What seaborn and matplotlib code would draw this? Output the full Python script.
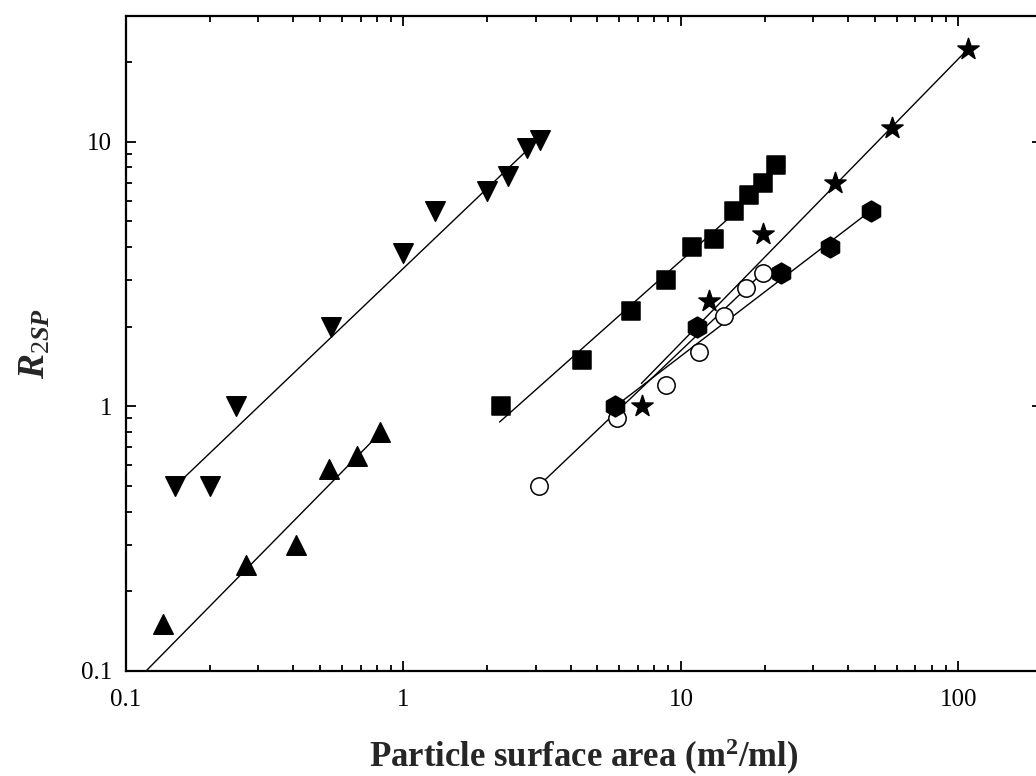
import matplotlib
matplotlib.use("Agg")
import matplotlib.pyplot as plt
import matplotlib.ticker as mticker
import numpy as np
import pandas as pd
import seaborn as sns

# Measured series: particle surface area (m^2/ml) vs R2SP
down_x = [0.15, 0.20, 0.25, 0.55, 1.0, 1.3, 2.0, 2.38, 2.78, 3.10]
down_y = [0.50, 0.50, 1.0, 2.0, 3.8, 5.5, 6.5, 7.4, 9.5, 10.2]

up_x = [0.136, 0.27, 0.41, 0.54, 0.68, 0.82]
up_y = [0.15, 0.25, 0.30, 0.58, 0.65, 0.80]

sq_x = [2.25, 4.4, 6.6, 8.8, 11.0, 13.2, 15.5, 17.6, 19.8, 22.0]
sq_y = [1.0, 1.5, 2.3, 3.0, 4.0, 4.3, 5.5, 6.3, 7.0, 8.2]

star_x = [7.25, 12.6, 19.8, 36.0, 57.5, 108.0]
star_y = [1.0, 2.5, 4.5, 7.0, 11.3, 22.4]

circ_x = [3.07, 5.9, 8.8, 11.6, 14.3, 17.1, 19.7]
circ_y = [0.5, 0.9, 1.2, 1.6, 2.2, 2.8, 3.2]

hex_x = [5.8, 11.4, 23.0, 34.5, 48.4]
hex_y = [1.0, 2.0, 3.2, 4.0, 5.5]

# Power-law fit lines (end points)
down_fit_x, down_fit_y = [0.158, 3.12], [0.524, 10.4]
up_fit_x, up_fit_y = [0.105, 0.80], [0.088, 0.767]
sq_fit_x, sq_fit_y = [2.22, 15.5], [0.872, 5.35]
star_fit_x, star_fit_y = [7.2, 108.0], [1.22, 22.4]
circ_fit_x, circ_fit_y = [3.07, 19.7], [0.5, 3.2]
hex_fit_x, hex_fit_y = [5.8, 48.4], [1.0, 5.5]

x_ticks = [0.1, 1, 10, 100]
y_ticks = [0.1, 1, 10]

sns.set_theme(style="ticks")
plt.rcParams["font.family"] = ["Liberation Serif", "DejaVu Serif"]
plt.rcParams["mathtext.fontset"] = "custom"
plt.rcParams["mathtext.rm"] = "Liberation Serif"
plt.rcParams["mathtext.it"] = "Liberation Serif:italic:bold"
plt.rcParams["mathtext.bf"] = "Liberation Serif:bold"

fig = plt.figure(figsize=(10.36, 7.76), dpi=100)
ax = fig.add_axes([126 / 1036, 105.3 / 776, 916 / 1036, 655 / 776])
ax.set_xscale("log")
ax.set_yscale("log")

fits = [
    (down_fit_x, down_fit_y),
    (up_fit_x, up_fit_y),
    (sq_fit_x, sq_fit_y),
    (star_fit_x, star_fit_y),
    (circ_fit_x, circ_fit_y),
    (hex_fit_x, hex_fit_y),
]
for fx, fy in fits:
    sns.lineplot(x=fx, y=fy, ax=ax, color="black", linewidth=1.0,
                 estimator=None, sort=False, zorder=2)

series = [
    (down_x, down_y, "v", 14, "black"),
    (up_x, up_y, "^", 14, "black"),
    (sq_x, sq_y, "s", 12.5, "black"),
    (star_x, star_y, "*", 16, "black"),
    (circ_x, circ_y, "o", 12.5, "white"),
    (hex_x, hex_y, "h", 15, "black"),
]
for sx, sy, mk, ms, fc in series:
    df = pd.DataFrame({"x": sx, "y": sy})
    sns.scatterplot(data=df, x="x", y="y", ax=ax, marker=mk, s=ms ** 2,
                    color=fc, edgecolor="black", linewidth=1.1, zorder=3)

ax.set_xlim(0.1, 200)
ax.set_ylim(0.1, 30)

fmt = mticker.FuncFormatter(lambda v, p: f"{v:g}")
ax.xaxis.set_major_locator(mticker.FixedLocator(x_ticks))
ax.yaxis.set_major_locator(mticker.FixedLocator(y_ticks))
ax.xaxis.set_major_formatter(fmt)
ax.yaxis.set_major_formatter(fmt)
ax.xaxis.set_minor_locator(mticker.LogLocator(base=10, subs=np.arange(2, 10)))
ax.yaxis.set_minor_locator(mticker.LogLocator(base=10, subs=np.arange(2, 10)))
ax.xaxis.set_minor_formatter(mticker.NullFormatter())
ax.yaxis.set_minor_formatter(mticker.NullFormatter())

ax.tick_params(which="both", direction="in", top=True, right=True,
               width=1.3, colors="black")
ax.tick_params(which="major", length=7.5, labelsize=18)
ax.tick_params(axis="x", which="major", pad=13)
ax.tick_params(axis="y", which="major", pad=10)
ax.tick_params(which="minor", length=4.5)
for sp in ax.spines.values():
    sp.set_linewidth(1.6)
    sp.set_color("black")

ax.set_xlabel(r"Particle surface area (m$^{\mathbf{2}}$/ml)",
              fontsize=25, fontweight="bold")
ax.set_ylabel(r"$\mathit{R}_{\mathit{2SP}}$", fontsize=27)
ax.xaxis.set_label_coords(0.5, -0.147)
ax.xaxis.label.set_va("baseline")
ax.yaxis.set_label_coords(-0.099, 0.5)
ax.yaxis.label.set_va("center")

fig.savefig("out.png", dpi=100)
